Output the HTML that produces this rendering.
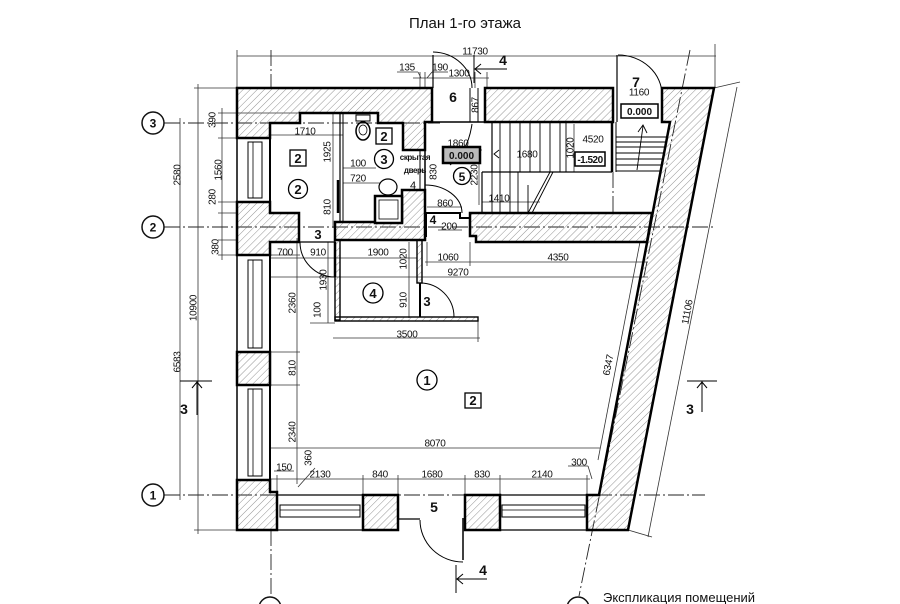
<!DOCTYPE html>
<html><head><meta charset="utf-8"><style>
html,body{margin:0;padding:0;background:#fff;}
svg{display:block}
text{font-family:"Liberation Sans",sans-serif;fill:#111}
.d{font-size:10px;letter-spacing:-0.3px;text-anchor:middle}
.b{font-weight:bold;text-anchor:middle}
</style></head><body>
<svg width="900" height="604" viewBox="0 0 900 604" xmlns="http://www.w3.org/2000/svg">
<defs>
<pattern id="h" width="5" height="5" patternUnits="userSpaceOnUse" patternTransform="rotate(45)"><line x1="0" y1="0" x2="0" y2="5" stroke="#666" stroke-width="0.7"/></pattern>
</defs>
<rect width="900" height="604" fill="#fff"/>

<!-- title -->
<text x="465" y="28" style="font-size:15px;text-anchor:middle">План 1-го этажа</text>

<!-- axis dash-dot lines -->
<g stroke="#222" stroke-width="0.9" fill="none" stroke-dasharray="16 3 2 3">
<line x1="164" y1="123" x2="440" y2="123"/>
<line x1="164" y1="227" x2="713" y2="227"/>
<line x1="164" y1="495" x2="705" y2="495"/>
<line x1="271" y1="50" x2="271" y2="88"/>
<line x1="271" y1="530" x2="271" y2="596"/>
<line x1="690" y1="50" x2="579" y2="596"/>
<line x1="613" y1="172" x2="613" y2="213"/>
</g>

<!-- axis circles -->
<g stroke="#111" stroke-width="1.5" fill="#fff">
<circle cx="153" cy="123" r="11"/>
<circle cx="153" cy="227" r="11"/>
<circle cx="153" cy="495" r="11"/>
<circle cx="270" cy="608" r="11"/>
<circle cx="578" cy="608" r="11"/>
</g>
<text class="b" x="153" y="127.5" style="font-size:12px">3</text>
<text class="b" x="153" y="231.5" style="font-size:12px">2</text>
<text class="b" x="153" y="499.5" style="font-size:12px">1</text>

<!-- dimension lines -->
<g stroke="#333" stroke-width="0.8" fill="none">
<line x1="237" y1="56" x2="716" y2="56"/>
<line x1="237" y1="50" x2="237" y2="88"/>
<line x1="715" y1="44" x2="715" y2="88"/>
<line x1="413" y1="78" x2="489" y2="78"/>
<line x1="420" y1="72" x2="420" y2="88"/>
<line x1="425" y1="72" x2="425" y2="88"/>
<line x1="475" y1="72" x2="475" y2="88"/>
<line x1="487" y1="72" x2="487" y2="88"/>
<line x1="397" y1="72" x2="418" y2="72"/>
<line x1="418" y1="72" x2="421" y2="78"/>
<line x1="432" y1="72" x2="448" y2="72"/>
<line x1="432" y1="72" x2="427" y2="78"/>
<line x1="198" y1="84" x2="198" y2="534"/>
<line x1="194" y1="88" x2="237" y2="88"/>
<line x1="194" y1="530" x2="237" y2="530"/>
<line x1="180" y1="118" x2="180" y2="500"/>
<line x1="222" y1="108" x2="222" y2="260"/>
<line x1="218" y1="113" x2="300" y2="113"/>
<line x1="218" y1="138" x2="237" y2="138"/>
<line x1="218" y1="202" x2="237" y2="202"/>
<line x1="218" y1="213" x2="237" y2="213"/>
<line x1="218" y1="240" x2="237" y2="240"/>
<line x1="218" y1="255" x2="237" y2="255"/>
<line x1="297" y1="238" x2="297" y2="484"/>
<line x1="270" y1="255" x2="300" y2="255"/>
<line x1="270" y1="352" x2="300" y2="352"/>
<line x1="270" y1="385" x2="300" y2="385"/>
<line x1="270" y1="258" x2="417" y2="258"/>
<line x1="270" y1="135" x2="343" y2="135"/>
<line x1="333" y1="113" x2="333" y2="228"/>
<line x1="343" y1="168" x2="376" y2="168"/>
<line x1="343" y1="183" x2="380" y2="183"/>
<line x1="409" y1="242" x2="409" y2="318"/>
<line x1="328" y1="242" x2="328" y2="323"/>
<line x1="310" y1="323" x2="335" y2="323"/>
<line x1="333" y1="338" x2="480" y2="338"/>
<line x1="478" y1="321" x2="478" y2="342"/>
<line x1="425" y1="262" x2="648" y2="262"/>
<line x1="427" y1="242" x2="427" y2="266"/>
<line x1="470" y1="242" x2="470" y2="266"/>
<line x1="270" y1="277" x2="648" y2="277"/>
<line x1="270" y1="448" x2="600" y2="448"/>
<line x1="270" y1="479" x2="590" y2="479"/>
<line x1="363" y1="475" x2="363" y2="495"/>
<line x1="398" y1="475" x2="398" y2="495"/>
<line x1="465" y1="475" x2="465" y2="495"/>
<line x1="500" y1="475" x2="500" y2="495"/>
<line x1="587" y1="475" x2="587" y2="495"/>
<line x1="277" y1="475" x2="277" y2="492"/>
<line x1="274" y1="471" x2="294" y2="471"/>
<line x1="568" y1="466" x2="588" y2="466"/>
<line x1="588" y1="466" x2="592" y2="479"/>
<line x1="315" y1="468" x2="298" y2="487"/>
<line x1="640" y1="242" x2="598" y2="460"/>
<line x1="737" y1="87" x2="648" y2="537"/>
<line x1="628" y1="530" x2="652" y2="537"/>
<line x1="714" y1="88" x2="740" y2="82"/>
<line x1="574" y1="124" x2="574" y2="172"/>
<line x1="445" y1="150" x2="482" y2="150"/>
<line x1="427" y1="207" x2="462" y2="207"/>
<line x1="482" y1="202" x2="540" y2="202"/>
<line x1="479" y1="153" x2="479" y2="205"/>
<line x1="438" y1="230" x2="462" y2="230"/>
</g>

<!-- walls (hatched) -->
<g fill="url(#h)" stroke="#000" stroke-width="2.5" stroke-linejoin="miter">
<polygon points="237,88 432,88 432,122 425,122 425,150 403,150 403,123 378,123 378,113 300,113 300,123 270,123 270,138 237,138"/>
<polygon points="237,202 270,202 270,213 299,213 299,242 270,242 270,255 237,255"/>
<polygon points="335,222 402,222 402,190 425,190 425,240 335,240"/>
<rect x="237" y="352" width="33" height="33"/>
<polygon points="237,480 270,480 270,492 277,492 277,530 237,530"/>
<rect x="363" y="495" width="35" height="35"/>
<rect x="465" y="495" width="35" height="35"/>
<rect x="485" y="88" width="128" height="34"/>
<polygon points="662,88 714,88 628,530 587,530 587,495 599,495 670,122 662,122"/>
<polygon points="470,213 652,213 647,242 476,242 476,236 470,236"/>
</g>
<g fill="url(#h)" stroke="#000" stroke-width="1.4">
<rect x="335" y="240" width="5" height="80"/>
<rect x="335" y="317" width="143" height="4"/>
<rect x="417" y="240" width="5" height="43"/>
</g>

<!-- thin lines: windows, partitions, room outlines -->
<g stroke="#000" fill="none">
<line x1="237" y1="138" x2="237" y2="202" stroke-width="1.5"/>
<line x1="270" y1="138" x2="270" y2="202" stroke-width="2"/>
<line x1="237" y1="255" x2="237" y2="352" stroke-width="1.5"/>
<line x1="270" y1="255" x2="270" y2="352" stroke-width="2"/>
<line x1="237" y1="385" x2="237" y2="480" stroke-width="1.5"/>
<line x1="270" y1="385" x2="270" y2="480" stroke-width="2"/>
<rect x="248" y="142" width="14" height="56" stroke-width="1"/>
<line x1="253" y1="142" x2="253" y2="198" stroke-width="0.8"/>
<rect x="248" y="260" width="14" height="88" stroke-width="1"/>
<line x1="253" y1="260" x2="253" y2="348" stroke-width="0.8"/>
<rect x="248" y="389" width="14" height="87" stroke-width="1"/>
<line x1="253" y1="389" x2="253" y2="476" stroke-width="0.8"/>
<line x1="277" y1="495" x2="363" y2="495" stroke-width="1.2"/>
<line x1="277" y1="530" x2="363" y2="530" stroke-width="1.2"/>
<rect x="280" y="505" width="80" height="12" stroke-width="1"/>
<line x1="280" y1="510" x2="360" y2="510" stroke-width="0.8"/>
<line x1="500" y1="495" x2="587" y2="495" stroke-width="1.2"/>
<line x1="500" y1="530" x2="587" y2="530" stroke-width="1.2"/>
<rect x="502" y="505" width="83" height="12" stroke-width="1"/>
<line x1="502" y1="510" x2="585" y2="510" stroke-width="0.8"/>
<line x1="299" y1="242" x2="335" y2="242" stroke-width="1.2"/>
<!-- partition 2/3 -->
<line x1="340" y1="113" x2="340" y2="222" stroke-width="1.2"/>
<line x1="343" y1="113" x2="343" y2="222" stroke-width="1"/>
<line x1="338" y1="180" x2="338" y2="213" stroke-width="2.5"/>
<!-- room 6 -->
<line x1="433" y1="55" x2="433" y2="88" stroke-width="1.2"/>
<line x1="470" y1="88" x2="470" y2="122" stroke-width="1"/>
<line x1="478" y1="88" x2="478" y2="122" stroke-width="1"/>
<line x1="432" y1="122" x2="485" y2="122" stroke-width="1.5"/>
<path d="M433,52 A40,36 0 0 1 472,88" stroke-width="1"/>
<!-- room 5 -->
<line x1="425" y1="122" x2="425" y2="213" stroke-width="1.5"/>
<line x1="420" y1="150" x2="420" y2="190" stroke-width="1"/>
<polyline points="425,213 460,213 460,218 470,218" stroke-width="2"/>
<line x1="426" y1="213" x2="426" y2="237" stroke-width="2"/>
<line x1="482" y1="172" x2="482" y2="213" stroke-width="1.2"/>
<line x1="492" y1="122" x2="492" y2="172" stroke-width="1.2"/>
<path d="M425,185 A37,28 0 0 1 462,213" stroke-width="1"/>
<path d="M472,124 Q468,152 450,165" stroke-width="1"/>
<!-- stairs -->
<line x1="482" y1="172" x2="612" y2="172" stroke-width="1.2"/>
<line x1="612" y1="122" x2="612" y2="172" stroke-width="2.5"/>
<line x1="616" y1="122" x2="616" y2="172" stroke-width="1"/>
<g stroke-width="0.9">
<line x1="500" y1="123" x2="500" y2="172"/>
<line x1="510" y1="123" x2="510" y2="172"/>
<line x1="520" y1="123" x2="520" y2="172"/>
<line x1="530" y1="123" x2="530" y2="172"/>
<line x1="540" y1="123" x2="540" y2="172"/>
<line x1="550" y1="123" x2="550" y2="172"/>
<line x1="560" y1="123" x2="560" y2="172"/>
<line x1="566" y1="123" x2="566" y2="172"/>
<line x1="492" y1="172" x2="492" y2="213"/>
<line x1="500" y1="172" x2="500" y2="213"/>
<line x1="510" y1="172" x2="510" y2="213"/>
<line x1="518" y1="172" x2="518" y2="213"/>
<line x1="528" y1="185" x2="528" y2="213"/>
<line x1="528" y1="213" x2="550" y2="172"/>
<line x1="532" y1="213" x2="553" y2="172"/>
<line x1="616" y1="137" x2="666" y2="137"/>
<line x1="616" y1="142" x2="665" y2="142"/>
<line x1="616" y1="147" x2="664" y2="147"/>
<line x1="616" y1="153" x2="663" y2="153"/>
<line x1="616" y1="159" x2="662" y2="159"/>
<line x1="616" y1="165" x2="661" y2="165"/>
<line x1="616" y1="171" x2="660" y2="171"/>
<line x1="637" y1="170" x2="643" y2="126"/>
<polyline points="638,132 643,125 647,133"/>
<polyline points="499,150 494,154 499,158"/>
</g>
<!-- room 7 -->
<line x1="617" y1="55" x2="617" y2="122" stroke-width="1.2"/>
<line x1="662" y1="88" x2="662" y2="122" stroke-width="1.2"/>
<path d="M618,55 A44,40 0 0 1 662,95" stroke-width="1"/>
<!-- door 3 to room 2 -->
<line x1="335" y1="242" x2="335" y2="277" stroke-width="2.5"/>
<path d="M300,242 A35,35 0 0 0 335,277" stroke-width="1"/>
<!-- door 3 room 4 -->
<line x1="420" y1="283" x2="420" y2="317" stroke-width="2"/>
<path d="M420,283 A34,34 0 0 1 454,317" stroke-width="1"/>
<!-- entrance door 5 -->
<line x1="398" y1="519" x2="420" y2="519" stroke-width="1.2"/>
<line x1="463" y1="518" x2="463" y2="560" stroke-width="1.5"/>
<path d="M420,520 A43,42 0 0 0 463,562" stroke-width="1"/>
<!-- toilet, sink, box -->
<rect x="356" y="115" width="14" height="6" stroke-width="1"/>
<ellipse cx="363" cy="131" rx="7" ry="9" stroke-width="1.5"/>
<ellipse cx="363" cy="130" rx="4" ry="5" stroke-width="0.8"/>
<ellipse cx="388" cy="187" rx="9" ry="8" stroke-width="1.2"/>
<rect x="375" y="196" width="27" height="27" stroke-width="2.5" fill="#fff"/>
<rect x="379" y="200" width="19" height="19" stroke-width="0.8"/>
</g>

<!-- section markers -->
<g stroke="#000" stroke-width="1" fill="none">
<line x1="474" y1="55" x2="474" y2="83"/>
<line x1="474" y1="69" x2="507" y2="69"/>
<polyline points="481,64 475,69 481,74"/>
<line x1="456" y1="565" x2="456" y2="593"/>
<line x1="456" y1="579" x2="487" y2="579"/>
<polyline points="463,574 457,579 463,584"/>
<line x1="180" y1="381" x2="212" y2="381"/>
<line x1="197" y1="381" x2="197" y2="415"/>
<polyline points="192,388 197,382 202,388"/>
<line x1="687" y1="381" x2="717" y2="381"/>
<line x1="702" y1="381" x2="702" y2="412"/>
<polyline points="697,388 702,382 707,388"/>
</g>
<text class="b" x="503" y="65" style="font-size:14px">4</text>
<text class="b" x="483" y="575" style="font-size:14px">4</text>
<text class="b" x="184" y="414" style="font-size:14px">3</text>
<text class="b" x="690" y="414" style="font-size:14px">3</text>

<!-- value boxes -->
<rect x="443" y="147" width="37" height="16" fill="#bbb" stroke="#000" stroke-width="2.5"/>
<text class="b" x="461.5" y="159" style="font-size:10px">0.000</text>
<rect x="575" y="152" width="30" height="14" fill="#fff" stroke="#000" stroke-width="1.5"/>
<text class="b" x="590" y="163" style="font-size:10px;letter-spacing:-0.5px">-1.520</text>
<rect x="621" y="104" width="37" height="14" fill="#fff" stroke="#000" stroke-width="1.5"/>
<text class="b" x="639.5" y="115" style="font-size:10px">0.000</text>

<!-- room labels -->
<g stroke="#000" stroke-width="1.3" fill="#fff">
<circle cx="298" cy="189" r="9.5"/>
<circle cx="384" cy="159" r="9.5"/>
<circle cx="462" cy="176" r="8.5"/>
<circle cx="373" cy="293" r="10"/>
<circle cx="427" cy="380" r="10"/>
<rect x="290" y="150" width="16" height="16"/>
<rect x="376" y="128" width="16" height="16"/>
<rect x="465" y="393" width="16" height="15"/>
</g>
<text class="b" x="298" y="194" style="font-size:13px">2</text>
<text class="b" x="384" y="164" style="font-size:13px">3</text>
<text class="b" x="462" y="181" style="font-size:12px">5</text>
<text class="b" x="373" y="298" style="font-size:13px">4</text>
<text class="b" x="427" y="385" style="font-size:13px">1</text>
<text class="b" x="298" y="163" style="font-size:13px">2</text>
<text class="b" x="384" y="141" style="font-size:13px">2</text>
<text class="b" x="473" y="405" style="font-size:13px">2</text>

<text class="b" x="453" y="102" style="font-size:14px">6</text>
<text class="b" x="636" y="87" style="font-size:14px">7</text>
<text class="b" x="318" y="239" style="font-size:13px">3</text>
<text class="b" x="433" y="224" style="font-size:12px">4</text>
<text class="b" x="427" y="306" style="font-size:13px">3</text>
<text class="b" x="434" y="512" style="font-size:14px">5</text>
<text class="b" x="415" y="160" style="font-size:8px;letter-spacing:-0.4px">скрытая</text>
<text class="b" x="415" y="173" style="font-size:8px;letter-spacing:-0.4px">дверь</text>
<text x="413" y="189" style="font-size:11px;text-anchor:middle">4</text>

<!-- horizontal dimension text -->
<g class="d">
<text class="d" x="475" y="54.5">11730</text>
<text class="d" x="407" y="70.5">135</text>
<text class="d" x="440" y="70.5">190</text>
<text class="d" x="459" y="76.5">1300</text>
<text class="d" x="305" y="134.5">1710</text>
<text class="d" x="358" y="166.5">100</text>
<text class="d" x="358" y="181.5">720</text>
<text class="d" x="458" y="146.5">1860</text>
<text class="d" x="527" y="157.5">1680</text>
<text class="d" x="593" y="142.5">4520</text>
<text class="d" x="639" y="95.5">1160</text>
<text class="d" x="499" y="201.5">1410</text>
<text class="d" x="445" y="206.5">860</text>
<text class="d" x="449" y="229.5">200</text>
<text class="d" x="285" y="255.5">700</text>
<text class="d" x="318" y="255.5">910</text>
<text class="d" x="378" y="255.5">1900</text>
<text class="d" x="448" y="260.5">1060</text>
<text class="d" x="558" y="260.5">4350</text>
<text class="d" x="458" y="275.5">9270</text>
<text class="d" x="407" y="337.5">3500</text>
<text class="d" x="435" y="446.5">8070</text>
<text class="d" x="284" y="470.5">150</text>
<text class="d" x="320" y="477.5">2130</text>
<text class="d" x="380" y="477.5">840</text>
<text class="d" x="432" y="477.5">1680</text>
<text class="d" x="482" y="477.5">830</text>
<text class="d" x="542" y="477.5">2140</text>
<text class="d" x="579" y="465.5">300</text>
</g>

<!-- rotated dimension text -->
<text class="d" transform="translate(212,120) rotate(-90)" y="3.5">390</text>
<text class="d" transform="translate(218,170) rotate(-90)" y="3.5">1560</text>
<text class="d" transform="translate(212,197) rotate(-90)" y="3.5">280</text>
<text class="d" transform="translate(177,175) rotate(-90)" y="3.5">2580</text>
<text class="d" transform="translate(215,247) rotate(-90)" y="3.5">380</text>
<text class="d" transform="translate(327,152) rotate(-90)" y="3.5">1925</text>
<text class="d" transform="translate(327,207) rotate(-90)" y="3.5">810</text>
<text class="d" transform="translate(475,105) rotate(-90)" y="3.5">867</text>
<text class="d" transform="translate(570,148) rotate(-90)" y="3.5">1020</text>
<text class="d" transform="translate(474,175) rotate(-90)" y="3.5">2230</text>
<text class="d" transform="translate(433,172) rotate(-90)" y="3.5">830</text>
<text class="d" transform="translate(403,259) rotate(-90)" y="3.5">1020</text>
<text class="d" transform="translate(403,300) rotate(-90)" y="3.5">910</text>
<text class="d" transform="translate(323,280) rotate(-90)" y="3.5">1930</text>
<text class="d" transform="translate(317,310) rotate(-90)" y="3.5">100</text>
<text class="d" transform="translate(292,303) rotate(-90)" y="3.5">2360</text>
<text class="d" transform="translate(193,308) rotate(-90)" y="3.5">10900</text>
<text class="d" transform="translate(177,362) rotate(-90)" y="3.5">6583</text>
<text class="d" transform="translate(292,368) rotate(-90)" y="3.5">810</text>
<text class="d" transform="translate(292,432) rotate(-90)" y="3.5">2340</text>
<text class="d" transform="translate(308,458) rotate(-90)" y="3.5">360</text>
<text class="d" transform="translate(608,365) rotate(-79)" y="3.5">6347</text>
<text class="d" transform="translate(687,312) rotate(-79)" y="3.5">11106</text>

<!-- explication -->
<text x="603" y="602" style="font-size:13px">Экспликация помещений</text>
</svg>
</body></html>
